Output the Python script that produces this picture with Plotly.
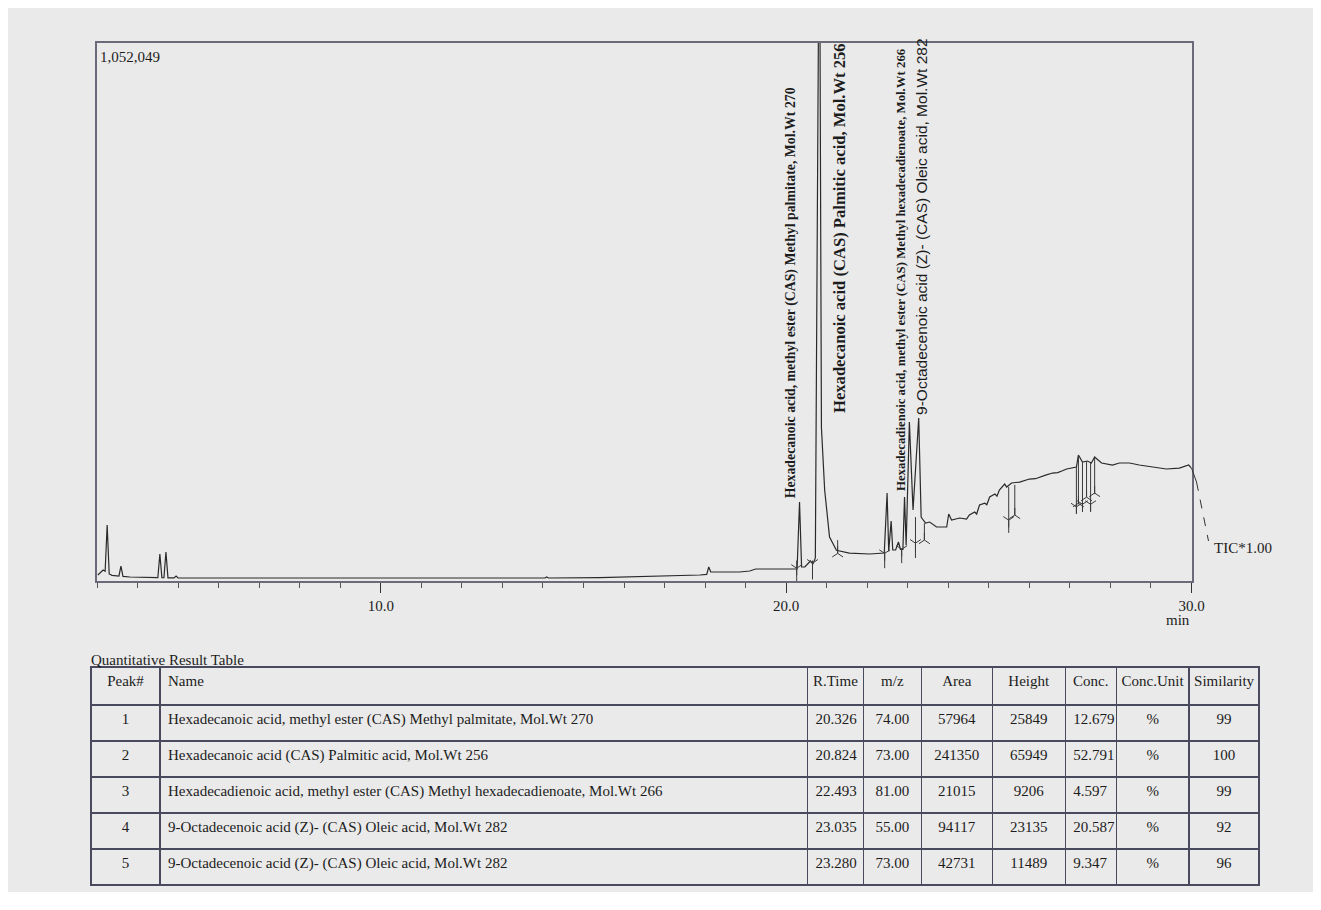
import plotly.graph_objects as go

# page has an 8px body margin; the captured page comes out ~1% narrower horizontally,
# so horizontal layout positions are pre-compensated by SX
OFF = 8
SX = 0.9905
W, H = 1321 - 2 * OFF, 910 - 2 * OFF - 10

# ---------------- chromatogram (TIC) data: retention time (min) vs intensity ----------------
time_min = [3.02, 3.15, 3.20, 3.25, 3.30, 3.37, 3.54, 3.59, 3.64, 3.81, 4.50, 4.55, 4.60, 4.65, 4.70,
            4.75, 4.90, 4.95, 5.00, 5.54, 8.00, 10.47, 12.20, 14.05, 14.09, 14.14, 15.40, 16.63,
            17.87, 18.04, 18.09, 18.14, 18.85, 19.10, 19.25, 19.84, 20.27, 20.33, 20.38, 20.46,
            20.60, 20.66, 20.72, 20.82, 20.87, 20.95, 21.07, 21.24, 21.56, 22.06, 22.42, 22.49,
            22.53, 22.59, 22.63, 22.70, 22.77, 22.82, 22.88, 22.92, 22.96, 23.04, 23.13, 23.27,
            23.33, 23.38, 23.44, 23.54, 23.71, 23.96, 24.01, 24.08, 24.28, 24.45, 24.52, 24.65,
            24.70, 24.77, 24.90, 24.95, 25.02, 25.15, 25.20, 25.26, 25.39, 25.44, 25.56, 25.76,
            25.90, 26.00, 26.15, 26.25, 26.40, 26.57, 26.70, 26.80, 26.92, 27.16, 27.21, 27.31,
            27.43, 27.53, 27.61, 27.78, 28.05, 28.22, 28.47, 28.71, 29.04, 29.38, 29.70, 29.93, 30.0]
intensity = [11700, 21500, 19000, 109500, 13700, 11000, 9800, 29300, 9000, 7800, 6500, 52800, 6500,
             6400, 56700, 6200, 6000, 9800, 5900, 5900, 5500, 5300, 5500, 5900, 7800, 5900, 6500,
             8500, 11700, 13000, 27400, 17600, 17600, 19500, 23500, 23500, 23500, 154400, 27400,
             27400, 39100, 33000, 45000, 1400000, 300000, 177900, 86000, 60000, 54700, 52800,
             54700, 172000, 58000, 117300, 60600, 60600, 76200, 62000, 62000, 164200, 70000,
             310800, 138800, 318700, 125000, 119300, 113400, 115300, 105600, 105600, 131000,
             119300, 123200, 121000, 129000, 135000, 131000, 148600, 152000, 149000, 164200,
             170000, 166000, 177900, 189600, 183800, 191600, 193500, 197000, 199400, 200000,
             203300, 207000, 211100, 212000, 215000, 219000, 222900, 246300, 232600, 234600,
             230700, 242400, 230700, 226800, 230700, 230700, 226800, 222900, 219000, 220900,
             226800, 220900]

# integration start/end markers (vertical lines with arrow heads)
marker_time = [20.26, 20.65, 21.27, 22.43, 22.85, 23.19, 23.41, 25.49, 25.64,
               27.16, 27.21, 27.31, 27.41, 27.51, 27.61]
marker_top = [40000, 40000, 80000, 60000, 64000, 125000, 113000, 184000, 188000,
              223000, 246000, 232000, 234000, 231000, 242000]
marker_bottom = [0, 3000, 54000, 25000, 35000, 45000, 80000, 94000, 129000,
                 133000, 150000, 135000, 164000, 135000, 170000]
marker_head = [25000, 35000, 54000, 54000, 62000, 74000, 80000, 119000, 129000,
               145000, 152000, 150000, 164000, 150000, 172000]
marker_dir = ["up", "up", "down", "up", "up", "up", "down", "up", "down",
              "up", "down", "up", "down", "up", "down"]

# peak identification labels
peak_label_time = [20.11, 21.32, 22.82, 23.34]
peak_label_base = [158000, 324000, 172000, 320000]
peak_label_text = [
    "Hexadecanoic acid, methyl ester (CAS) Methyl palmitate, Mol.Wt 270",
    "Hexadecanoic acid (CAS) Palmitic acid, Mol.Wt 256",
    "Hexadecadienoic acid, methyl ester (CAS) Methyl hexadecadienoate, Mol.Wt 266",
    "9-Octadecenoic acid (Z)- (CAS) Oleic acid, Mol.Wt 282",
]
peak_label_size = [13.8, 16.6, 12.8, 15.5]
peak_label_bold = [True, True, True, False]
peak_label_font = ["Liberation Serif, Times New Roman, serif"] * 3 + ["Liberation Sans, Arial, sans-serif"]

x_tick_vals = [10, 20, 30]
x_tick_text = ["10.0", "20.0", "30.0"]
y_max = 1052049

# ---------------- quantitative result table ----------------
tbl_header = ["Peak#", "Name", "R.Time", "m/z", "Area", "Height", "Conc.", "Conc.Unit", "Similarity"]
tbl_peak = ["1", "2", "3", "4", "5"]
tbl_name = [
    "Hexadecanoic acid, methyl ester (CAS) Methyl palmitate, Mol.Wt 270",
    "Hexadecanoic acid (CAS) Palmitic acid, Mol.Wt 256",
    "Hexadecadienoic acid, methyl ester (CAS) Methyl hexadecadienoate, Mol.Wt 266",
    "9-Octadecenoic acid (Z)- (CAS) Oleic acid, Mol.Wt 282",
    "9-Octadecenoic acid (Z)- (CAS) Oleic acid, Mol.Wt 282",
]
tbl_rtime = ["20.326", "20.824", "22.493", "23.035", "23.280"]
tbl_mz = ["74.00", "73.00", "81.00", "55.00", "73.00"]
tbl_area = ["57964", "241350", "21015", "94117", "42731"]
tbl_height = ["25849", "65949", "9206", "23135", "11489"]
tbl_conc = ["12.679", "52.791", "4.597", "20.587", "9.347"]
tbl_unit = ["%", "%", "%", "%", "%"]
tbl_sim = ["99", "100", "99", "92", "96"]
tbl_colwidth = [69, 648, 56, 58, 71, 73, 51, 73, 70]

BG = "#eaeaea"
INK = "#1c1c1c"
SERIF = "Liberation Serif, Times New Roman, serif"


def px(x):
    return (x / SX - OFF) / W


def py(y):
    return 1 - (y - OFF) / H


fig = go.Figure()

fig.add_trace(go.Scatter(x=time_min, y=intensity, mode="lines",
                         line=dict(color="#2a2a2a", width=1.2), hoverinfo="skip", showlegend=False))

# marker shafts
mx, my = [], []
for t, top, bot in zip(marker_time, marker_top, marker_bottom):
    mx += [t, t, None]
    my += [top, bot, None]
fig.add_trace(go.Scatter(x=mx, y=my, mode="lines", line=dict(color="#3a3a3a", width=1),
                         hoverinfo="skip", showlegend=False))
fig.add_trace(go.Scatter(x=marker_time, y=marker_head, mode="markers",
                         marker=dict(symbol=["y-down" if d == "up" else "y-up" for d in marker_dir],
                                     size=9, line=dict(color="#3a3a3a", width=1)),
                         hoverinfo="skip", showlegend=False, cliponaxis=False))

# table
fig.add_trace(go.Table(
    domain=dict(x=[px(91), px(1260)], y=[py(887), py(667)]),
    columnwidth=tbl_colwidth,
    header=dict(values=tbl_header, height=38, fill_color=BG,
                line=dict(color="#4a4a5e", width=1.2),
                align=["center", "left", "center", "center", "center", "center", "center", "center", "center"],
                font=dict(family=SERIF, size=15, color=INK)),
    cells=dict(values=[tbl_peak, tbl_name, tbl_rtime, tbl_mz, tbl_area, tbl_height, tbl_conc, tbl_unit, tbl_sim],
               height=36, fill_color=BG, line=dict(color="#4a4a5e", width=1.2),
               align=["center", "left", "left", "center", "center", "center", "left", "center", "center"],
               font=dict(family=SERIF, size=15, color=INK)),
))

annotations = []
for t, b, txt, s, bold, fam in zip(peak_label_time, peak_label_base, peak_label_text, peak_label_size,
                                   peak_label_bold, peak_label_font):
    annotations.append(dict(x=t, y=b, xref="x", yref="y", text=f"<b>{txt}</b>" if bold else txt,
                            textangle=-90, showarrow=False, xanchor="center", yanchor="bottom",
                            font=dict(family=fam, size=s, color=INK)))

annotations += [
    dict(x=px(98), y=py(57), xref="paper", yref="paper", text=f"{y_max:,}", showarrow=False,
         xanchor="left", yanchor="middle", font=dict(family=SERIF, size=15, color=INK)),
    dict(x=px(1212), y=py(548), xref="paper", yref="paper", text="TIC*1.00", showarrow=False,
         xanchor="left", yanchor="middle", font=dict(family=SERIF, size=15, color=INK)),
    dict(x=px(1178), y=py(620), xref="paper", yref="paper", text="min", showarrow=False,
         xanchor="center", yanchor="middle", font=dict(family=SERIF, size=15, color=INK)),
    dict(x=px(89), y=py(660), xref="paper", yref="paper", text="Quantitative Result Table", showarrow=False,
         xanchor="left", yanchor="middle", font=dict(family=SERIF, size=15, color=INK)),
]

shapes = [
    dict(type="line", xref="paper", yref="paper", x0=px(1192), y0=py(468), x1=px(1197), y1=py(482),
         line=dict(color="#333", width=1)),
    dict(type="line", xref="paper", yref="paper", x0=px(1197), y0=py(482), x1=px(1209), y1=py(541),
         line=dict(color="#333", width=1, dash="dash")),
]

fig.update_layout(
    width=W, height=H, margin=dict(l=0, r=0, t=0, b=0),
    paper_bgcolor=BG, plot_bgcolor=BG, showlegend=False,
    annotations=annotations, shapes=shapes,
    xaxis=dict(domain=[px(97), px(1192)], range=[3.0, 30.0], showgrid=False, zeroline=False,
               showline=True, linecolor="#6a6a7a", linewidth=1.5, mirror=True,
               tickmode="array", tickvals=x_tick_vals, ticktext=x_tick_text,
               ticks="outside", ticklen=10, tickcolor="#333", tickwidth=1,
               tickfont=dict(family=SERIF, size=15, color=INK),
               minor=dict(ticks="outside", ticklen=5, dtick=1, tick0=0, tickcolor="#555")),
    yaxis=dict(domain=[py(581), py(43)], range=[0, y_max], showgrid=False, zeroline=False,
               showline=True, linecolor="#6a6a7a", linewidth=1.5, mirror=True,
               showticklabels=False, ticks=""),
)

fig.write_html("out.html")
